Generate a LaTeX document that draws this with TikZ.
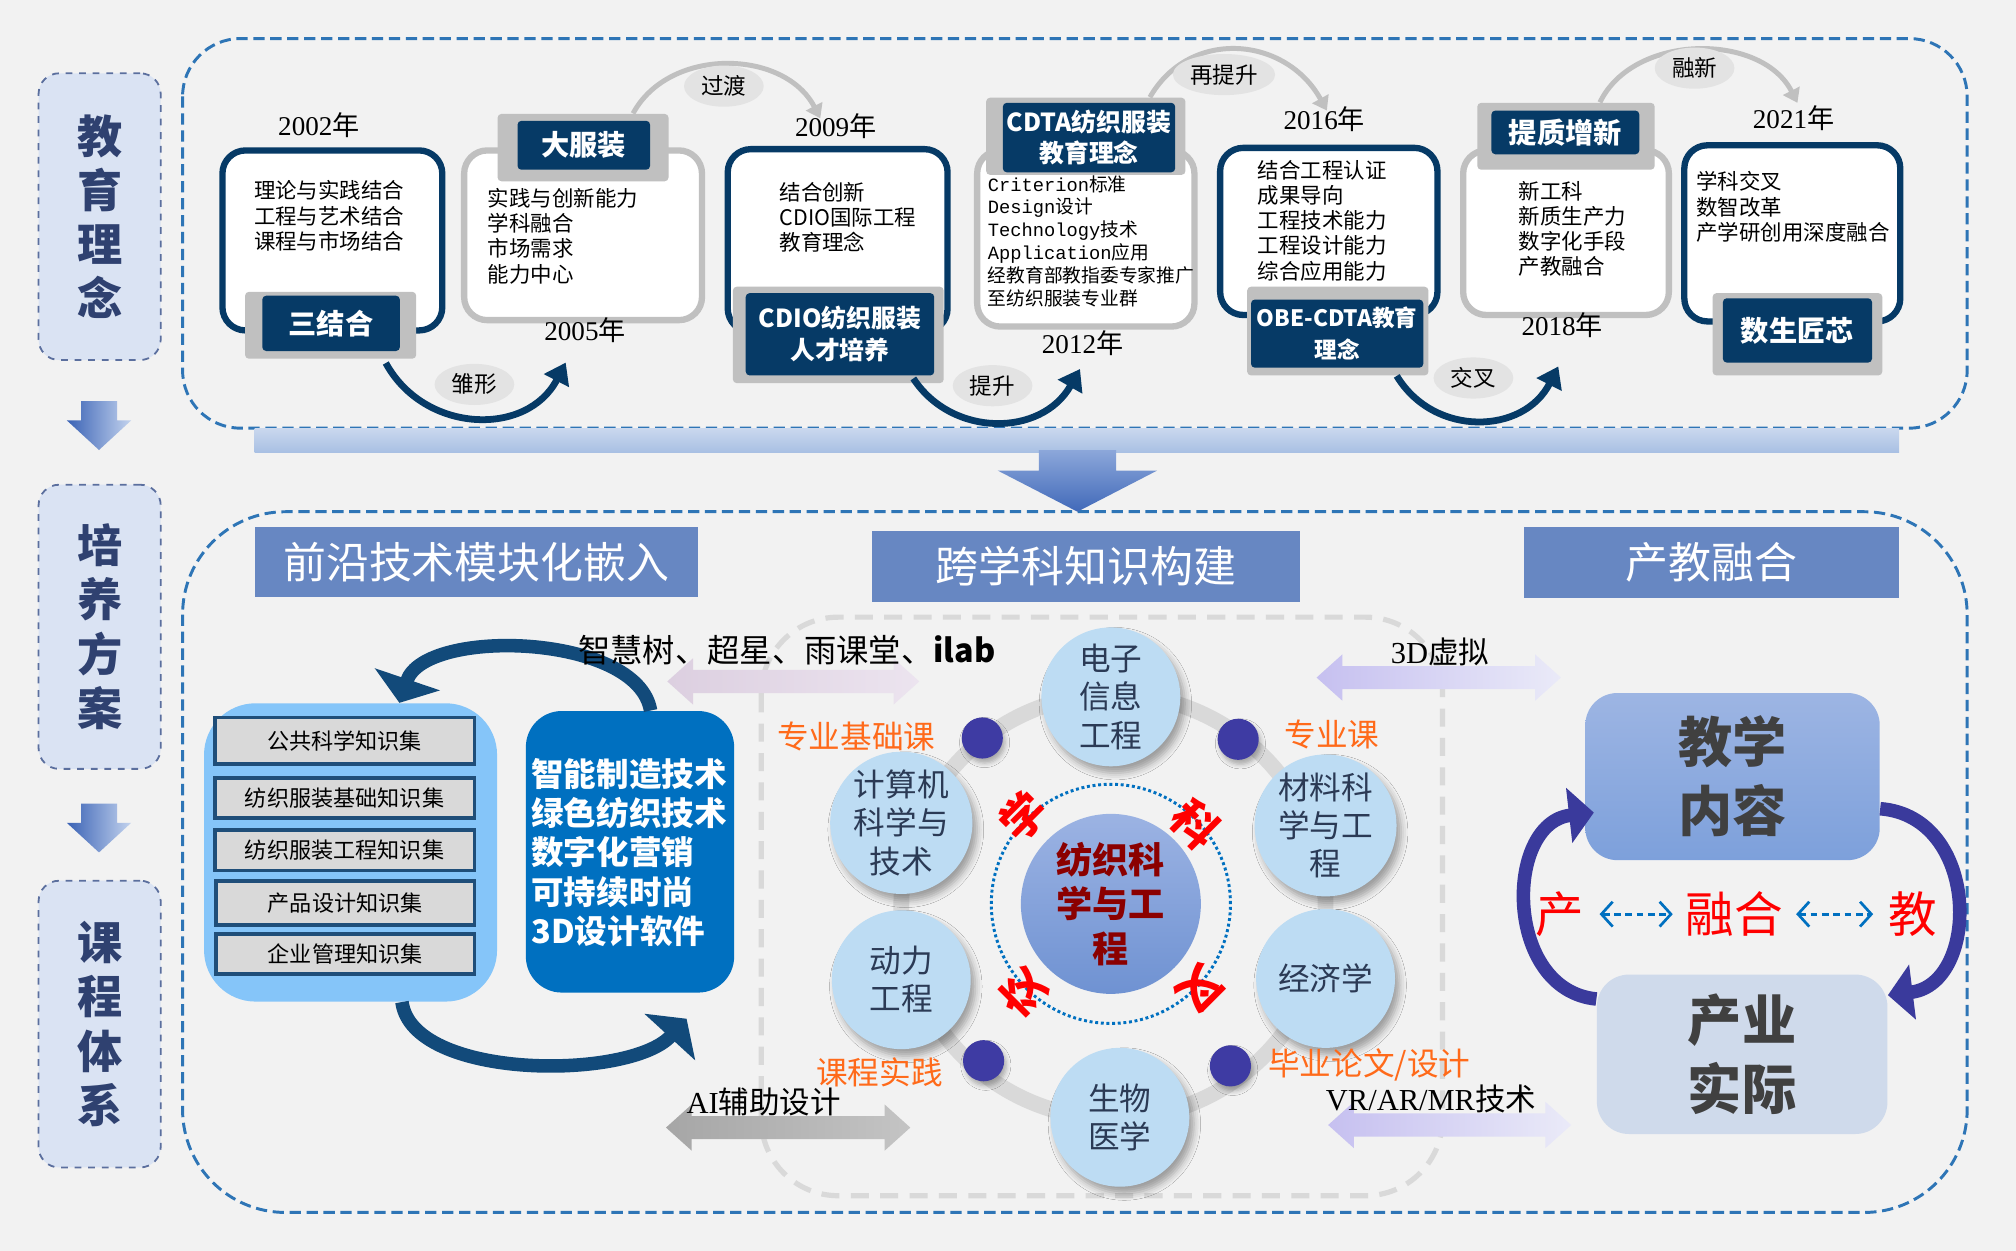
\documentclass[tikz,border=0pt]{standalone}
\usepackage{fontspec}
\setmainfont{Noto Sans CJK SC}
\newfontfamily\numfont{Liberation Serif}
\newfontfamily\monofont{Liberation Mono}
\usetikzlibrary{positioning,fit,shapes.geometric,arrows.meta,shadows.blur}

\definecolor{bgc}{HTML}{F2F2F2}
\definecolor{navy}{HTML}{063A66}
\definecolor{lgray}{HTML}{C0C0C0}
\definecolor{tagfill}{HTML}{E3E3E3}
\definecolor{frameblue}{HTML}{2E75B6}
\definecolor{sidefill}{HTML}{DAE3F3}
\definecolor{sideline}{HTML}{5B6F9E}
\definecolor{sidetxt}{HTML}{2F4170}
\definecolor{sideL}{HTML}{3A62B5}
\definecolor{sideR}{HTML}{C3D3EE}
\definecolor{barT}{HTML}{CAD8EE}
\definecolor{barB}{HTML}{A8BFE3}
\definecolor{downT}{HTML}{8CA7DA}
\definecolor{downB}{HTML}{4169B9}
\definecolor{barblue}{HTML}{6787C2}
\definecolor{kblue}{HTML}{85C5F9}
\definecolor{kitemfill}{HTML}{D9D9D9}
\definecolor{kitemline}{HTML}{1F4E79}
\definecolor{techblue}{HTML}{0070C0}
\definecolor{cycnavy}{HTML}{124A7A}
\definecolor{subjfill}{HTML}{BDDCF3}
\definecolor{subjtxt}{HTML}{2B3A55}
\definecolor{coreT}{HTML}{9CB3E3}
\definecolor{coreB}{HTML}{6F92D2}
\definecolor{hubdot}{HTML}{3E3BA3}
\definecolor{ringgray}{HTML}{D9D9D9}
\definecolor{tagorange}{HTML}{FF6A1A}
\definecolor{coretxt}{HTML}{8B0000}
\definecolor{pinkL}{HTML}{DCCFE0}
\definecolor{pinkM}{HTML}{B59DC2}
\definecolor{pinkR}{HTML}{ECE4EF}
\definecolor{lavL}{HTML}{C6C0F0}
\definecolor{lavR}{HTML}{EAEAF8}
\definecolor{grayL}{HTML}{A6A6A6}
\definecolor{grayR}{HTML}{C4C4C4}
\definecolor{teachT}{HTML}{9DB5E3}
\definecolor{teachB}{HTML}{7DA0DB}
\definecolor{indfill}{HTML}{CFDAEB}
\definecolor{loopblue}{HTML}{3A3A9C}
\definecolor{boxdark}{HTML}{404040}

\newlength\upx
\setlength\upx{0.02cm}

% double block arrow: style, left x, right x, centre y
\newcommand{\flowarrow}[4]{%
  \shade[#1] (#2,#4) -- (#2+20,#4-18) -- (#2+20,#4-9) -- (#3-20,#4-9) -- (#3-20,#4-18)
    -- (#3,#4) -- (#3-20,#4+18) -- (#3-20,#4+9) -- (#2+20,#4+9) -- (#2+20,#4+18) -- cycle;}

\tikzset{
  sidebox/.style={draw=sideline, dashed, line width=0.8pt, fill=sidefill, rounded corners=16\upx, inner sep=0pt},
  sidetxt/.style={text=sidetxt, align=center, font=\bfseries\fontsize{20}{24}\selectfont},
  sidearrow/.style={left color=sideL, right color=sideR},
  frame/.style={draw=frameblue, line width=1.3pt, dash pattern=on 5pt off 2.5pt},
  navybox/.style={draw=navy, line width=2.8pt, fill=white, rounded corners=18\upx, inner sep=0pt},
  graybox/.style={draw=lgray, line width=2.8pt, fill=white, rounded corners=18\upx, inner sep=0pt},
  labback/.style={fill=lgray, inner sep=0pt, rounded corners=3\upx},
  labfront/.style={fill=navy, inner sep=0pt, rounded corners=3\upx},
  labtxt/.style={text=white, inner sep=0pt, align=center, font=\bfseries\fontsize{12.5}{14}\selectfont},
  labtwo/.style={text=white, inner sep=0pt, align=center, font=\bfseries\fontsize{11}{14}\selectfont},
  yeartxt/.style={font=\fontsize{12}{14}\selectfont},
  notetxt/.style={align=left, inner sep=0pt, font=\fontsize{9.5}{11.2}\selectfont},
  notesmall/.style={align=left, inner sep=0pt, font=\fontsize{8.3}{10.1}\selectfont},
  arctag/.style={ellipse, fill=tagfill, inner sep=1pt, minimum width=62\upx, minimum height=32\upx,
    font=\fontsize{10}{12}\selectfont},
  navyarc/.style={draw=navy, line width=3pt, -{Triangle[length=9pt,width=12pt]}},
  grayarc/.style={draw=lgray, line width=2.2pt, -{Triangle[length=6pt,width=8pt]}},
  titlebar/.style={fill=barblue, inner sep=0pt},
  titletxt/.style={text=white, inner sep=0pt, font=\fontsize{19}{22}\selectfont},
  kitem/.style={draw=kitemline, line width=1.7pt, fill=kitemfill, inner sep=0pt},
  kitemtxt/.style={inner sep=0pt, font=\fontsize{9.8}{11}\selectfont},
  techtxt/.style={text=white, align=left, inner sep=0pt, font=\bfseries\fontsize{14.4}{17.4}\selectfont},
  cycarrow/.style={draw=cycnavy, line width=6pt, -{Triangle[length=11pt,width=30pt]}},
  ring/.style={draw=ringgray, line width=7pt},
  subj/.style={circle, fill=subjfill, minimum size=108\upx, inner sep=0pt, text=subjtxt, align=center,
    font=\fontsize{14}{17}\selectfont,
    blur shadow={shadow xshift=2pt, shadow yshift=-3pt, shadow blur radius=3pt, shadow opacity=35}},
  core/.style={circle, top color=coreT, bottom color=coreB, minimum size=140\upx, inner sep=0pt,
    text=coretxt, align=center, font=\bfseries\fontsize{16}{19.8}\selectfont},
  hub/.style={circle, fill=hubdot, minimum size=32\upx, inner sep=0pt,
    blur shadow={shadow xshift=1pt, shadow yshift=-2pt, shadow blur radius=2pt, shadow opacity=30}},
  redchar/.style={text=red, font=\bfseries\fontsize{20}{22}\selectfont},
  tag/.style={text=tagorange, font=\fontsize{14}{16}\selectfont},
  flowtxt/.style={font=\fontsize{13.5}{15}\selectfont},
  teachbox/.style={top color=teachT, bottom color=teachB, rounded corners=25\upx, inner sep=0pt},
  indbox/.style={fill=indfill, rounded corners=25\upx, inner sep=0pt},
  bigtxt/.style={text=boxdark, align=center, inner sep=0pt, font=\bfseries\fontsize{24}{30.6}\selectfont},
  redbig/.style={text=red, font=\fontsize{21.5}{24}\selectfont},
  bidash/.style={draw=techblue, line width=1.2pt, dash pattern=on 3pt off 2pt,
    {Straight Barb[length=5pt,width=11pt]}-{Straight Barb[length=5pt,width=11pt]}},
  loopar/.style={draw=loopblue, line width=6pt, -{Triangle[length=11pt,width=24pt]}},
}

\begin{document}
\begin{tikzpicture}[x=0.02cm,y=-0.02cm]
\useasboundingbox (0,0) rectangle (1568,973);
\fill[bgc] (0,0) rectangle (1568,973);

% left column
\node[sidebox, fit={(30,57) (125,280)}] (side1) {};
\node[sidetxt] (side1t) at (side1) {教\\育\\理\\念};
\node[sidebox, fit={(30,377) (125,598)}] (side2) {};
\node[sidetxt] (side2t) at (side2) {培\\养\\方\\案};
\node[sidebox, fit={(30,685) (125,908)}] (side3) {};
\node[sidetxt] (side3t) at (side3) {课\\程\\体\\系};
\shade[sidearrow] (63,312) -- (91,312) -- (91,327) -- (102,327) -- (77,350) -- (52,327) -- (63,327) -- cycle;
\shade[sidearrow] (63,625) -- (91,625) -- (91,640) -- (102,640) -- (77,663) -- (52,640) -- (63,640) -- cycle;

% frames
\draw[frame, rounded corners=45\upx] (142,30) rectangle (1530,333);
\draw[frame, rounded corners=80\upx] (142,398) rectangle (1530,943);
\shade[top color=barT, bottom color=barB] (198,333) rectangle (1477,352);
\shade[top color=downT, bottom color=downB] (808,350) -- (868,350) -- (868,366) -- (900,366)
  -- (838,398) -- (776,366) -- (808,366) -- cycle;

% top row: stages
\node[navybox, fit={(173,117) (344,257)}] (box1) {};
\node[graybox, fit={(361,117) (546,249)}] (box2) {};
\node[navybox, fit={(566,116) (737,258)}] (box3) {};
\node[graybox, fit={(760,117) (929,254)}] (box4) {};
\node[navybox, fit={(949,115) (1118,245)}] (box5) {};
\node[graybox, fit={(1138,117) (1298,245)}] (box6) {};
\node[navybox, fit={(1310,113) (1478,250)}] (box7) {};

\node[notetxt, align=center] (n1) at (256,168) {理论与实践结合\\工程与艺术结合\\课程与市场结合};
\node[notetxt, anchor=west] (n2) at (379,183.5) {实践与创新能力\\学科融合\\市场需求\\能力中心};
\node[notetxt, anchor=west] (n3) at (606,169) {结合创新\\CDIO国际工程\\教育理念};
\node[notesmall, anchor=west] (n4) at (768,187.5) {{\monofont Criterion}标准\\{\monofont Design}设计\\
  {\monofont Technology}技术\\{\monofont Application}应用\\经教育部教指委专家推广\\至纺织服装专业群};
\node[notetxt, anchor=west] (n5) at (978,171.5) {结合工程认证\\成果导向\\工程技术能力\\工程设计能力\\综合应用能力};
\node[notetxt, anchor=west] (n6) at (1181,178) {新工科\\新质生产力\\数字化手段\\产教融合};
\node[notetxt, anchor=west] (n7) at (1319,161) {学科交叉\\数智改革\\产学研创用深度融合};

\node[labback, fit={(190.6,227) (323.7,279)}] (lab1b) {};
\node[labfront, fit={(204,230) (311,273)}] (lab1) {};
\node[labtxt] (lab1t) at (lab1) {三结合};
\node[labback, fit={(387,88.6) (520,141)}] (lab2b) {};
\node[labfront, fit={(402.5,94) (505.6,132)}] (lab2) {};
\node[labtxt] (lab2t) at (lab2) {大服装};
\node[labback, fit={(570,223) (734,298)}] (lab3b) {};
\node[labfront, fit={(580,228) (726.6,292)}] (lab3) {};
\node[labtwo] (lab3t) at (lab3) {CDIO纺织服装\\人才培养};
\node[labback, fit={(767,76) (922,136)}] (lab4b) {};
\node[labfront, fit={(780,80) (914,134)}] (lab4) {};
\node[labtwo] (lab4t) at (lab4) {CDTA纺织服装\\教育理念};
\node[labback, fit={(970,223) (1111,292)}] (lab5b) {};
\node[labfront, fit={(973,233) (1107,286)}] (lab5) {};
\node[labtwo, font=\bfseries\fontsize{10}{14}\selectfont] (lab5t) at (lab5) {OBE-CDTA教育\\理念};
\node[labback, fit={(1149,80) (1287,132)}] (lab6b) {};
\node[labfront, fit={(1160,86) (1275,120)}] (lab6) {};
\node[labtxt] (lab6t) at (lab6) {提质增新};
\node[labback, fit={(1332,228) (1464,292)}] (lab7b) {};
\node[labfront, fit={(1340,232) (1456,282)}] (lab7) {};
\node[labtxt] (lab7t) at (lab7) {数生匠芯};

\node[yeartxt] (y2002) at (248,97) {{\numfont 2002}年};
\node[yeartxt] (y2005) at (455,257) {{\numfont 2005}年};
\node[yeartxt] (y2009) at (650,98) {{\numfont 2009}年};
\node[yeartxt] (y2012) at (842,267) {{\numfont 2012}年};
\node[yeartxt] (y2016) at (1030,93) {{\numfont 2016}年};
\node[yeartxt] (y2018) at (1215,253) {{\numfont 2018}年};
\node[yeartxt] (y2021) at (1395,92) {{\numfont 2021}年};

% links between stages
\coordinate (e1) at (440,282);
\coordinate (e2) at (638,92);
\coordinate (e3) at (840,287);
\coordinate (e4) at (1032,86);
\coordinate (e5) at (1212,285);
\coordinate (e6) at (1398,80);
\draw[navyarc] ([xshift=-24\upx,yshift=-3\upx]lab1b.south east) .. controls +(30,55) and +(-30,58) .. (e1);
\draw[grayarc] ([xshift=-28\upx]lab2b.north east) .. controls +(28,-52) and +(-28,-54) .. (e2);
\draw[navyarc] ([xshift=-24\upx,yshift=4\upx]lab3b.south east) .. controls +(30,46) and +(-30,53) .. (e3);
\draw[grayarc] ([xshift=-28\upx]lab4b.north east) .. controls +(31,-54) and +(-32,-58) .. (e4);
\draw[navyarc] ([xshift=-25\upx]lab5b.south east) .. controls +(29,48) and +(-27,53) .. (e5);
\draw[grayarc] ([xshift=-43\upx]lab6b.north east) .. controls +(26,-54) and +(-28,-55) .. (e6);
\node[arctag] (t1) at (369,299) {雏形};
\node[arctag] (t2) at (563,67) {过渡};
\node[arctag] (t3) at (772,300) {提升};
\node[arctag] (t4) at (952,58) {再提升};
\node[arctag] (t5) at (1146,294) {交叉};
\node[arctag] (t6) at (1318,53) {融新};

% lower part: titles
\node[titlebar, fit={(198,410) (543,464)}] (tl) {};
\node[titletxt] (tlt) at (tl) {前沿技术模块化嵌入};
\node[titlebar, fit={(678,413) (1011,468)}] (tm) {};
\node[titletxt] (tmt) at (tm) {跨学科知识构建};
\node[titlebar, fit={(1185,410) (1477,465)}] (tr) {};
\node[titletxt] (trt) at (tr) {产教融合};

% knowledge sets
\node[fit={(158.7,547) (386.6,779)}, fill=kblue, rounded corners=40\upx, inner sep=0pt] (kset) {};
\node[kitem, fit={(167,558) (369,594)}] (k1) {};
\node[kitemtxt] (k1t) at (k1) {公共科学知识集};
\node[kitem, fit={(167,605) (369,636)}] (k2) {};
\node[kitemtxt] (k2t) at (k2) {纺织服装基础知识集};
\node[kitem, fit={(167,645.6) (369,677)}] (k3) {};
\node[kitemtxt] (k3t) at (k3) {纺织服装工程知识集};
\node[kitem, fit={(168,685) (369,719.6)}] (k4) {};
\node[kitemtxt] (k4t) at (k4) {产品设计知识集};
\node[kitem, fit={(168,726.6) (369,757.7)}] (k5) {};
\node[kitemtxt] (k5t) at (k5) {企业管理知识集};
\node[fit={(409,553) (571,772)}, fill=techblue, rounded corners=28\upx, inner sep=0pt] (tech) {};
\node[techtxt, anchor=west] (techt) at (413,663) {智能制造技术\\绿色纺织技术\\数字化营销\\可持续时尚\\3D设计软件};
\draw[cycarrow] ([xshift=16\upx]tech.north) .. controls +(-10,-60) and +(20,-59) .. ([xshift=38\upx]kset.north);
\draw[cycarrow] ([xshift=40\upx]kset.south) .. controls +(8,61) and +(-44,48) .. ([xshift=44\upx,yshift=-20\upx]tech.south);

% interdisciplinary ring
\draw[ringgray, line width=2.3pt, dash pattern=on 8pt off 5pt, rounded corners=60\upx] (592,480) rectangle (1122,930);
\draw[ring] (866,705) circle[radius=165\upx];
\node[hub] (h1) at (764,574) {};
\node[hub] (h2) at (963,575) {};
\node[hub] (h3) at (765,825) {};
\node[hub] (h4) at (957,829) {};
\node[subj] (ee) at (864,542) {电子\\信息\\工程};
\node[subj] (cs) at (701,640) {计算机\\科学与\\技术};
\node[subj] (ms) at (1031,642) {材料科\\学与工\\程};
\node[subj] (pe) at (701,762) {动力\\工程};
\node[subj] (ec) at (1031,761) {经济学};
\node[subj] (bm) at (871,869) {生物\\医学};
\node[core] (core) at (864,703) {纺织科\\学与工\\程};
\draw[techblue, line width=1.3pt, dash pattern=on 1.3pt off 1.2pt] (core) circle[radius=93\upx];
\node[redchar, rotate=45] (r1) at (796,635) {学};
\node[redchar, rotate=-45] (r2) at (930,641) {科};
\node[redchar, rotate=135] (r3) at (796,772) {交};
\node[redchar, rotate=-135] (r4) at (933,769) {叉};
\node[tag] (tg1) at (666,573) {专业基础课};
\node[tag] (tg2) at (1036,571) {专业课};
\node[tag] (tg3) at (684,834) {课程实践};
\node[tag] (tg4) at (1065,828) {毕业论文/设计};

% platforms
\flowarrow{left color=pinkL, middle color=pinkM, right color=pinkR}{519}{715}{530}
\flowarrow{left color=lavL, right color=lavR}{1024}{1214}{527}
\flowarrow{left color=grayL, right color=grayR}{518}{708}{877}
\flowarrow{left color=lavL, right color=lavR}{1033}{1222}{875}
\node[flowtxt, font=\fontsize{14.3}{17}\selectfont] (p1) at (612,506) {智慧树、超星、雨课堂、\textbf{ilab}};
\node[flowtxt] (p2) at (1120,507) {{\numfont 3D}虚拟};
\node[flowtxt] (p3) at (594,857) {{\numfont AI}辅助设计};
\node[flowtxt] (p4) at (1113,855) {{\numfont VR/AR/MR}技术};

% industry-education loop
\node[teachbox, fit={(1233,539) (1462,669)}] (teach) {};
\node[bigtxt] (teacht) at (teach) {教学\\内容};
\node[indbox, fit={(1242,758) (1468,882)}] (indus) {};
\node[bigtxt] (indust) at (indus) {产业\\实际};
\node[redbig] (chan) at (1213,711) {产};
\node[redbig] (ronghe) at (1349,711) {融合};
\node[redbig] (jiao) at (1488,711) {教};
\draw[bidash, shorten <=6\upx, shorten >=4\upx] (chan) -- (ronghe);
\draw[bidash, shorten <=4\upx, shorten >=6\upx] (ronghe) -- (jiao);
\draw[loopar] ([yshift=43\upx]indus.west) .. controls +(-72,-7) and +(-70,8) .. ([xshift=7\upx,yshift=-28\upx]teach.west);
\draw[loopar] ([yshift=-25\upx]teach.east) .. controls +(78,6) and +(72,-9) .. ([yshift=46\upx]indus.east);
\end{tikzpicture}
\end{document}
